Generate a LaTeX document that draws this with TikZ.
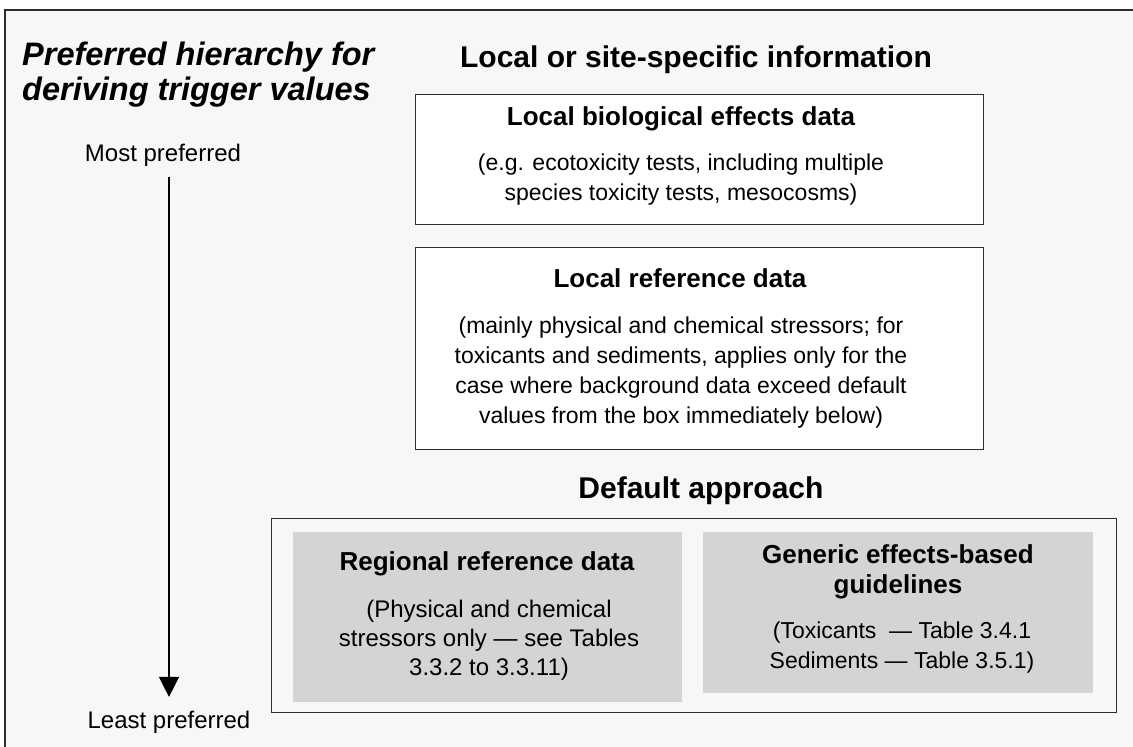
\documentclass[tikz,border=0pt]{standalone}
\usepackage{fontspec}
\setmainfont{Liberation Sans}
\usetikzlibrary{arrows.meta}
\definecolor{bgcol}{HTML}{F7F7F7}
\definecolor{boxgray}{HTML}{D4D4D4}
\definecolor{frameline}{HTML}{2E2E2E}
\begin{document}
\begin{tikzpicture}[x=1pt,y=-1pt,
  bodytext/.style={font=\fontsize{23}{30}\selectfont, align=center, inner sep=0pt, anchor=base},
  labeltext/.style={font=\fontsize{24}{28}\selectfont, inner sep=0pt, anchor=base},
  boxtitle/.style={font=\fontsize{26}{30}\selectfont\bfseries, align=center, inner sep=0pt, anchor=base},
  headtext/.style={font=\fontsize{30}{34}\selectfont\bfseries, inner sep=0pt, anchor=base},
  whitebox/.style={draw=frameline, line width=1.4pt, fill=white, anchor=north west, inner sep=0pt},
  framebox/.style={draw=frameline, line width=1.4pt, anchor=north west, inner sep=0pt},
  graybox/.style={fill=boxgray, anchor=north west, inner sep=0pt},
  hierarrow/.style={line width=1.3pt, -{Triangle[length=20pt,width=20pt]}}]
\useasboundingbox (0,0) rectangle (1133,747);
\fill[white] (0,0) rectangle (1133,747);
\fill[bgcol] (5,10) rectangle (1150,760);
\draw[frameline, line width=1.4pt] (5,10) rectangle (1150,760);

% left column (multi-line nodes: base = baseline of the last line)
\node[font=\fontsize{32.5}{35}\selectfont\bfseries\itshape, align=left, inner sep=0pt, anchor=base west] (title) at (22,100)
  {Preferred hierarchy for\\deriving trigger values};
\node[labeltext] (most) at (163,161) {Most preferred};
\node[labeltext] (least) at (169,728) {Least preferred};
\draw[hierarrow, shorten <=11pt, shorten >=13.5pt] (least.north |- most.south) -- (least.north);

% local information
\node[headtext] (localhead) at (696,67) {Local or site-specific information};
\node[whitebox, minimum width=568pt, minimum height=130pt] (bio) at (415,94) {};
\node[boxtitle] (biotitle) at (681,125) {Local biological effects data};
\node[bodytext] (biobody) at (681,200) {(e.g. ecotoxicity tests, including multiple\\species toxicity tests, mesocosms)};

\node[whitebox, minimum width=568pt, minimum height=202pt] (ref) at (415,247) {};
\node[boxtitle] (reftitle) at (680,287) {Local reference data};
\node[bodytext] (refbody) at (681,423) {(mainly physical and chemical stressors; for\\toxicants and sediments, applies only for the\\case where background data exceed default\\values from the box immediately below)};

% default approach
\node[headtext] (defhead) at (701,498) {Default approach};
\node[framebox, minimum width=845pt, minimum height=194pt] (defbox) at (271,518) {};
\node[graybox, minimum width=389pt, minimum height=170pt] (regional) at (293,532) {};
\node[boxtitle] (regtitle) at (487,570) {Regional reference data};
\node[bodytext, font=\fontsize{24}{29}\selectfont] (regbody) at (489,675) {(Physical and chemical\\stressors only — see Tables\\3.3.2 to 3.3.11)};

\node[graybox, minimum width=390pt, minimum height=161pt] (generic) at (703,532) {};
\node[boxtitle] (gentitle) at (898,593) {Generic effects-based\\guidelines};
\node[bodytext] (genbody) at (902,668) {(Toxicants\ \ — Table 3.4.1\\Sediments — Table 3.5.1)};
\end{tikzpicture}
\end{document}
